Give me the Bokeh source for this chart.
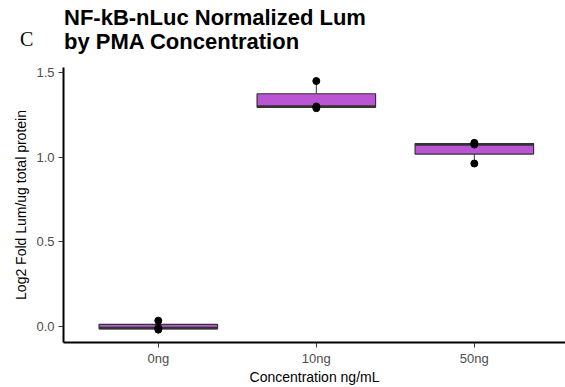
import numpy as np
from bokeh.plotting import figure
from bokeh.layouts import column
from bokeh.models import Range1d, FixedTicker, ColumnDataSource, PrintfTickFormatter, Div
from bokeh.embed import file_html
from bokeh.resources import INLINE

categories = ["0ng", "10ng", "50ng"]
values_0ng = [0.035, -0.008, -0.018]
values_10ng = [1.45, 1.30, 1.29]
values_50ng = [1.085, 1.075, 0.963]
series = [values_0ng, values_10ng, values_50ng]
y_ticks = [0.0, 0.5, 1.0, 1.5]
title_lines = ["NF-kB-nLuc Normalized Lum", "by PMA Concentration"]
panel_letter = "C"

BOX_FILL = "#BA55D3"
EDGE = "#333333"
FONT = "Liberation Sans"
W, H = 565, 387
TH = 60  # height of the title strip

# ---- title strip (HTML text, absolutely positioned)
span = ('<span style="position:absolute;left:{l}px;top:{t}px;white-space:nowrap;'
        'font-family:{f};font-size:{s}px;line-height:{s}px;font-weight:{w};color:black;">{txt}</span>')
html = ('<div style="position:relative;width:{W}px;height:{H}px;margin:0;padding:0;">'.format(W=W, H=TH)
        + span.format(l=64, t=7.4, f="'Liberation Sans'", s=22, w="bold", txt=title_lines[0])
        + span.format(l=64, t=31.4, f="'Liberation Sans'", s=22, w="bold", txt=title_lines[1])
        + span.format(l=20, t=29.3, f="'Liberation Serif'", s=20, w="normal", txt=panel_letter)
        + '</div>')
t = Div(text=html, width=W, height=TH, margin=0)

# ---- main plot
p = figure(width=W, height=H - TH, output_backend="svg", toolbar_location=None,
           x_range=Range1d(0.4, 3.577), y_range=Range1d(-0.094, 1.53),
           min_border_left=63, min_border_right=0, min_border_top=67 - TH, min_border_bottom=44,
           margin=0)
p.outline_line_color = None
p.xgrid.visible = False
p.ygrid.visible = False

xs = np.arange(1, len(categories) + 1)
q1s, meds, q3s, lows, highs = [], [], [], [], []
for vals in series:
    a = np.array(vals)
    q1, med, q3 = np.percentile(a, [25, 50, 75])
    iqr = q3 - q1
    lo = a[a >= q1 - 1.5 * iqr].min()
    hi = a[a <= q3 + 1.5 * iqr].max()
    q1s.append(q1); meds.append(med); q3s.append(q3); lows.append(lo); highs.append(hi)

src = ColumnDataSource(dict(x=xs, q1=q1s, med=meds, q3=q3s, lo=lows, hi=highs,
                            left=xs - 0.375, right=xs + 0.375))
# whiskers
p.segment(x0="x", x1="x", y0="q3", y1="hi", source=src, line_color=EDGE, line_width=1)
p.segment(x0="x", x1="x", y0="q1", y1="lo", source=src, line_color=EDGE, line_width=1)
# boxes
p.quad(left="left", right="right", bottom="q1", top="q3", source=src,
       fill_color=BOX_FILL, line_color=EDGE, line_width=1.2)
# median
p.segment(x0="left", x1="right", y0="med", y1="med", source=src, line_color=EDGE, line_width=2.5)

# points
px, py = [], []
for x, vals in zip(xs, series):
    for v in vals:
        px.append(x); py.append(v)
p.scatter(px, py, size=7, color="black")

# axes
p.xaxis.ticker = FixedTicker(ticks=list(xs))
p.xaxis.major_label_overrides = {int(x): c for x, c in zip(xs, categories)}
p.yaxis.ticker = FixedTicker(ticks=y_ticks)
p.yaxis.formatter = PrintfTickFormatter(format="%.1f")
for ax in (p.xaxis[0], p.yaxis[0]):
    ax.axis_line_color = "black"
    ax.axis_line_width = 2
    ax.major_tick_line_color = EDGE
    ax.major_tick_line_width = 1
    ax.major_tick_in = 0
    ax.major_tick_out = 5
    ax.minor_tick_line_color = None
    ax.major_label_text_font = FONT
    ax.major_label_text_font_size = "13px"
    ax.major_label_text_color = "#4D4D4D"
    ax.major_label_standoff = 4
    ax.axis_label_text_font = FONT
    ax.axis_label_text_font_size = "14px"
    ax.axis_label_text_font_style = "normal"
    ax.axis_label_text_color = "black"
    ax.axis_label_standoff = 4
p.xaxis.major_label_standoff = 3
p.xaxis.axis_label_standoff = 0
p.xaxis.axis_label = "Concentration ng/mL"
p.yaxis.axis_label = "Log2 Fold Lum/ug total protein"

layout = column(t, p, spacing=0)
open("out.html", "w").write(file_html(layout, INLINE))
